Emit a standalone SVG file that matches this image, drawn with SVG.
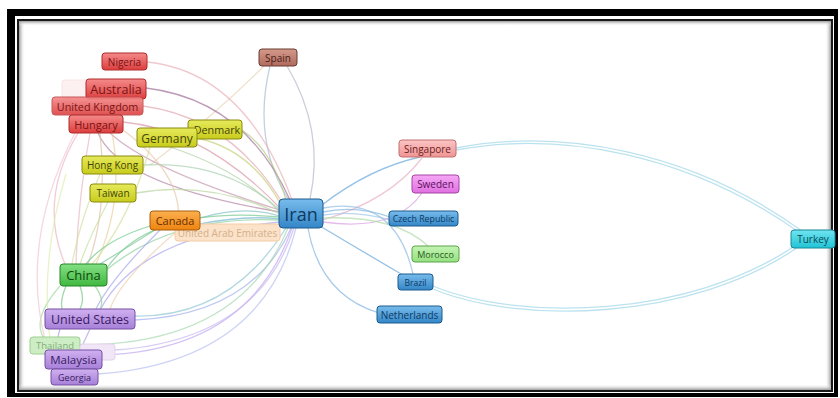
<svg xmlns="http://www.w3.org/2000/svg" width="840" height="398" viewBox="0 0 840 398">
<defs>
<style>
.n text{font-family:"Open Sans","Noto Sans",sans-serif;text-anchor:middle;dominant-baseline:central}
.e path{fill:none;stroke-width:1.3;stroke-opacity:0.7}
</style>
<linearGradient id="gRed" x1="0" y1="0" x2="0" y2="1"><stop offset="0" stop-color="#f58a8a"/><stop offset="1" stop-color="#dc3e3e"/></linearGradient>
<linearGradient id="gYel" x1="0" y1="0" x2="0" y2="1"><stop offset="0" stop-color="#e6ea5a"/><stop offset="1" stop-color="#c8cc1c"/></linearGradient>
<linearGradient id="gBrn" x1="0" y1="0" x2="0" y2="1"><stop offset="0" stop-color="#d49a8c"/><stop offset="1" stop-color="#b06a5c"/></linearGradient>
<linearGradient id="gOrg" x1="0" y1="0" x2="0" y2="1"><stop offset="0" stop-color="#fbb050"/><stop offset="1" stop-color="#ee8410"/></linearGradient>
<linearGradient id="gBlu" x1="0" y1="0" x2="0" y2="1"><stop offset="0" stop-color="#78bcec"/><stop offset="1" stop-color="#3486c8"/></linearGradient>
<linearGradient id="gGrn" x1="0" y1="0" x2="0" y2="1"><stop offset="0" stop-color="#84e084"/><stop offset="1" stop-color="#40b840"/></linearGradient>
<linearGradient id="gPur" x1="0" y1="0" x2="0" y2="1"><stop offset="0" stop-color="#d0b0f0"/><stop offset="1" stop-color="#a680d8"/></linearGradient>
<linearGradient id="gPnk" x1="0" y1="0" x2="0" y2="1"><stop offset="0" stop-color="#fcc4c4"/><stop offset="1" stop-color="#f09494"/></linearGradient>
<linearGradient id="gMag" x1="0" y1="0" x2="0" y2="1"><stop offset="0" stop-color="#f6a8f6"/><stop offset="1" stop-color="#e070e0"/></linearGradient>
<linearGradient id="gLgr" x1="0" y1="0" x2="0" y2="1"><stop offset="0" stop-color="#c4f4b4"/><stop offset="1" stop-color="#94e080"/></linearGradient>
<linearGradient id="gCya" x1="0" y1="0" x2="0" y2="1"><stop offset="0" stop-color="#70e4f0"/><stop offset="1" stop-color="#20c4d6"/></linearGradient>
<linearGradient id="shadeL" x1="0" y1="0" x2="1" y2="0"><stop offset="0" stop-color="#999"/><stop offset="1" stop-color="#fff" stop-opacity="0"/></linearGradient>
<linearGradient id="shadeR" x1="1" y1="0" x2="0" y2="0"><stop offset="0" stop-color="#999"/><stop offset="1" stop-color="#fff" stop-opacity="0"/></linearGradient>
<linearGradient id="shadeT" x1="0" y1="0" x2="0" y2="1"><stop offset="0" stop-color="#999"/><stop offset="1" stop-color="#fff" stop-opacity="0"/></linearGradient>
<linearGradient id="shadeB" x1="0" y1="1" x2="0" y2="0"><stop offset="0" stop-color="#999"/><stop offset="1" stop-color="#fff" stop-opacity="0"/></linearGradient>
</defs>
<rect x="0" y="0" width="840" height="398" fill="#ffffff"/>
<g id="frame">
<rect x="7" y="9" width="831" height="388" fill="#000"/>
<rect x="15" y="16" width="819" height="377" fill="#fff"/>
<rect x="18" y="20" width="814" height="371" fill="none" stroke="#1a1a1a" stroke-width="2"/>
<rect x="19" y="21" width="6" height="369" fill="url(#shadeL)"/>
<rect x="825" y="21" width="6" height="369" fill="url(#shadeR)"/>
<rect x="19" y="21" width="812" height="5" fill="url(#shadeT)"/>
<rect x="19" y="384" width="812" height="6" fill="url(#shadeB)"/>
</g>
<g id="connectors" class="e">
<path d="M456,148 C560,128 690,150 802,231" stroke="#9ed6e8"/>
<path d="M456,150 C560,131 688,153 800,233" stroke="#9ed6e8"/>
<path d="M433,286 C520,322 690,318 796,245" stroke="#9ed6e8"/>
<path d="M433,289 C520,325 692,321 798,247" stroke="#9ed6e8"/>
<path d="M322,205 Q370,168 420,157" stroke="#6aa8dc" stroke-width="1.6"/>
<path d="M323,220 Q390,200 422,158" stroke="#e8b0c8"/>
<path d="M320,226 Q360,250 408,278" stroke="#6aa8dc" stroke-width="1.6"/>
<path d="M308,228 Q320,295 379,313" stroke="#80b4e0"/>
<path d="M323,212 Q356,205 390,217" stroke="#80b4e0"/>
<path d="M323,215 Q356,210 390,220" stroke="#a0c4e8"/>
<path d="M323,222 Q395,232 422,193" stroke="#d8a0e0"/>
<path d="M323,218 Q395,215 428,246" stroke="#b0dca8"/>
<path d="M323,208 Q395,195 413,274" stroke="#90bce4"/>
<path d="M270,66 Q252,140 288,199" stroke="#a8bcd4"/>
<path d="M287,66 Q325,130 310,199" stroke="#b8b8c8"/>
<path d="M264,66 Q215,115 150,165" stroke="#e8d4b4"/>
<path d="M147,62 Q245,72 292,200" stroke="#e8b0b8"/>
<path d="M146,88 Q245,100 290,200" stroke="#a07098"/>
<path d="M143,106 Q232,118 283,204" stroke="#e4a8b4"/>
<path d="M123,122 Q205,130 280,208" stroke="#d89aa8"/>
<path d="M98,133 Q120,185 280,212" stroke="#b488a8"/>
<path d="M110,133 Q150,170 280,210" stroke="#c898b0"/>
<path d="M197,138 Q252,150 281,205" stroke="#c4d078"/>
<path d="M242,130 Q272,150 286,200" stroke="#b4cc84"/>
<path d="M170,147 Q240,170 280,212" stroke="#b0d0a0"/>
<path d="M143,165 Q225,160 280,210" stroke="#a8d0b0"/>
<path d="M136,193 Q210,180 280,214" stroke="#b8d49c"/>
<path d="M200,218 Q245,205 280,216" stroke="#80c0c4"/>
<path d="M200,224 Q245,215 280,219" stroke="#78b8d0"/>
<path d="M107,268 Q150,205 280,217" stroke="#78c890"/>
<path d="M104,272 Q170,215 280,220" stroke="#90d0a0"/>
<path d="M100,310 Q140,235 280,222" stroke="#a8a4f0"/>
<path d="M135,316 Q230,318 286,228" stroke="#90c8d4"/>
<path d="M135,320 Q252,315 291,228" stroke="#a4b0ec"/>
<path d="M102,355 Q250,350 292,228" stroke="#c0a8f0"/>
<path d="M98,374 Q262,362 296,228" stroke="#b8c0f0"/>
<path d="M80,345 Q240,345 288,228" stroke="#a8d8b0"/>
<path d="M115,350 Q258,340 294,228" stroke="#c8b8f0"/>
<path d="M78,133 Q38,200 65,264" stroke="#ecb4c4"/>
<path d="M90,133 Q78,200 76,264" stroke="#e8b8c0"/>
<path d="M100,133 Q108,210 88,264" stroke="#e0c0a8"/>
<path d="M112,133 Q125,200 96,264" stroke="#e8d0a0"/>
<path d="M150,147 Q130,220 92,264" stroke="#d4e09c"/>
<path d="M100,174 Q80,220 72,264" stroke="#d4e0a0"/>
<path d="M108,202 Q88,240 80,264" stroke="#c8e0a0"/>
<path d="M150,226 Q105,240 86,264" stroke="#70c890"/>
<path d="M155,230 Q115,255 100,264" stroke="#80c8a0"/>
<path d="M160,230 Q110,280 96,309" stroke="#a8a8ec"/>
<path d="M176,232 Q120,280 110,309" stroke="#f0d0b0"/>
<path d="M123,130 Q190,180 176,232" stroke="#e8c8a8"/>
<path d="M66,286 Q60,300 62,309" stroke="#78c888"/>
<path d="M80,286 Q85,300 80,309" stroke="#78c888"/>
<path d="M95,286 Q105,300 100,309" stroke="#90d098"/>
<path d="M60,329 Q56,340 60,350" stroke="#b0a0e8"/>
<path d="M90,329 Q85,340 80,350" stroke="#b0a0e8"/>
<path d="M60,286 Q30,320 45,340" stroke="#a0d8a0"/>
<path d="M66,174 Q40,260 50,340" stroke="#e0ecb0"/>
<path d="M75,133 Q20,240 45,340" stroke="#f0c8d0"/>
</g>
<g id="node-ghost1" class="n"><rect x="62" y="80" width="27" height="18" rx="3" fill="#fdf0f0" stroke="#fae4e4"/></g>
<g id="node-nigeria" class="n"><rect x="102" y="53" width="45" height="17" rx="3" fill="url(#gRed)" stroke="#b02a2a"/><text x="124.5" y="61.5" font-size="10" fill="#7a1414">Nigeria</text></g>
<g id="node-australia" class="n"><rect x="86" y="79" width="60" height="20" rx="3" fill="url(#gRed)" stroke="#b02a2a"/><text x="116" y="89" font-size="12.5" fill="#7a1414">Australia</text></g>
<g id="node-uk" class="n"><rect x="52" y="97" width="91" height="18" rx="3" fill="url(#gRed)" stroke="#c04848" opacity="0.9"/><text x="97.5" y="106.5" font-size="10.8" fill="#7a1414">United Kingdom</text></g>
<g id="node-hungary" class="n"><rect x="69" y="115" width="54" height="18" rx="3" fill="url(#gRed)" stroke="#b02a2a"/><text x="96" y="124.5" font-size="11" fill="#7a1414">Hungary</text></g>
<g id="node-denmark" class="n"><rect x="188" y="120" width="54" height="19" rx="3" fill="url(#gYel)" stroke="#8a8a10"/><text x="217" y="129.5" font-size="10.8" fill="#44440a">Denmark</text></g>
<g id="node-germany" class="n"><rect x="137" y="128" width="60" height="19" rx="3" fill="url(#gYel)" stroke="#8a8a10"/><text x="167" y="138" font-size="12" fill="#44440a">Germany</text></g>
<g id="node-spain" class="n"><rect x="259" y="49" width="38" height="17" rx="3" fill="url(#gBrn)" stroke="#6a3a30"/><text x="278" y="57.5" font-size="10" fill="#4a1e16">Spain</text></g>
<g id="node-hongkong" class="n"><rect x="82" y="156" width="61" height="18" rx="3" fill="url(#gYel)" stroke="#8a8a10"/><text x="112.5" y="165" font-size="10" fill="#44440a">Hong Kong</text></g>
<g id="node-taiwan" class="n"><rect x="90" y="184" width="46" height="18" rx="3" fill="url(#gYel)" stroke="#8a8a10"/><text x="113" y="193" font-size="10" fill="#44440a">Taiwan</text></g>
<g id="node-uae" class="n"><rect x="175" y="224" width="105" height="17" rx="3" fill="#fbe2c8" stroke="#f4cca4"/><text x="227.5" y="233" font-size="10" fill="#d4b08c">United Arab Emirates</text></g>
<g id="node-canada" class="n"><rect x="150" y="211" width="50" height="19" rx="3" fill="url(#gOrg)" stroke="#a85c0c"/><text x="175" y="220.5" font-size="11" fill="#6a2e00">Canada</text></g>
<g id="node-iran" class="n"><rect x="279" y="199" width="44" height="29" rx="4" fill="url(#gBlu)" stroke="#1c5a8c"/><text x="301" y="213.5" font-size="18" fill="#0e3a62">Iran</text></g>
<g id="node-china" class="n"><rect x="60" y="264" width="47" height="22" rx="3" fill="url(#gGrn)" stroke="#268626"/><text x="83.5" y="275" font-size="13" fill="#0e4a0e">China</text></g>
<g id="node-us" class="n"><rect x="45" y="309" width="90" height="20" rx="3" fill="url(#gPur)" stroke="#7450a4"/><text x="90" y="319" font-size="12.5" fill="#3a1a62">United States</text></g>
<g id="node-thailand" class="n"><rect x="30" y="337" width="50" height="17" rx="3" fill="#cdeec4" stroke="#9cce90"/><text x="55" y="345.5" font-size="9.5" fill="#84ac7c">Thailand</text></g>
<g id="node-ghost2" class="n"><rect x="80" y="344" width="35" height="16" rx="3" fill="#f0e6f8" stroke="#e2d4ec"/></g>
<g id="node-malaysia" class="n"><rect x="45" y="350" width="57" height="19" rx="3" fill="url(#gPur)" stroke="#7450a4"/><text x="73.5" y="359.5" font-size="11.5" fill="#3a1a62">Malaysia</text></g>
<g id="node-georgia" class="n"><rect x="51" y="369" width="47" height="16" rx="3" fill="url(#gPur)" stroke="#7450a4"/><text x="74.5" y="377" font-size="9" fill="#3a1a62">Georgia</text></g>
<g id="node-singapore" class="n"><rect x="399" y="140" width="57" height="17" rx="3" fill="url(#gPnk)" stroke="#c07070"/><text x="427.5" y="148.5" font-size="10" fill="#6a2020">Singapore</text></g>
<g id="node-sweden" class="n"><rect x="412" y="175" width="47" height="18" rx="3" fill="url(#gMag)" stroke="#a444a4"/><text x="435.5" y="184" font-size="10" fill="#5a105a">Sweden</text></g>
<g id="node-czech" class="n"><rect x="389" y="211" width="69" height="15" rx="3" fill="url(#gBlu)" stroke="#1c5a8c"/><text x="423.5" y="218.5" font-size="8.8" fill="#0e3a62">Czech Republic</text></g>
<g id="node-morocco" class="n"><rect x="412" y="246" width="47" height="16" rx="3" fill="url(#gLgr)" stroke="#5ca44c"/><text x="435.5" y="254" font-size="9" fill="#2a5a20">Morocco</text></g>
<g id="node-brazil" class="n"><rect x="398" y="274" width="35" height="16" rx="3" fill="url(#gBlu)" stroke="#1c5a8c"/><text x="415.5" y="282" font-size="8.5" fill="#0e3a62">Brazil</text></g>
<g id="node-netherlands" class="n"><rect x="377" y="306" width="65" height="17" rx="3" fill="url(#gBlu)" stroke="#1c5a8c"/><text x="409.5" y="314.5" font-size="10" fill="#0e3a62">Netherlands</text></g>
<g id="node-turkey" class="n"><rect x="791" y="230" width="44" height="18" rx="3" fill="url(#gCya)" stroke="#188898"/><text x="813" y="239" font-size="10" fill="#0a4a56">Turkey</text></g>
</svg>
